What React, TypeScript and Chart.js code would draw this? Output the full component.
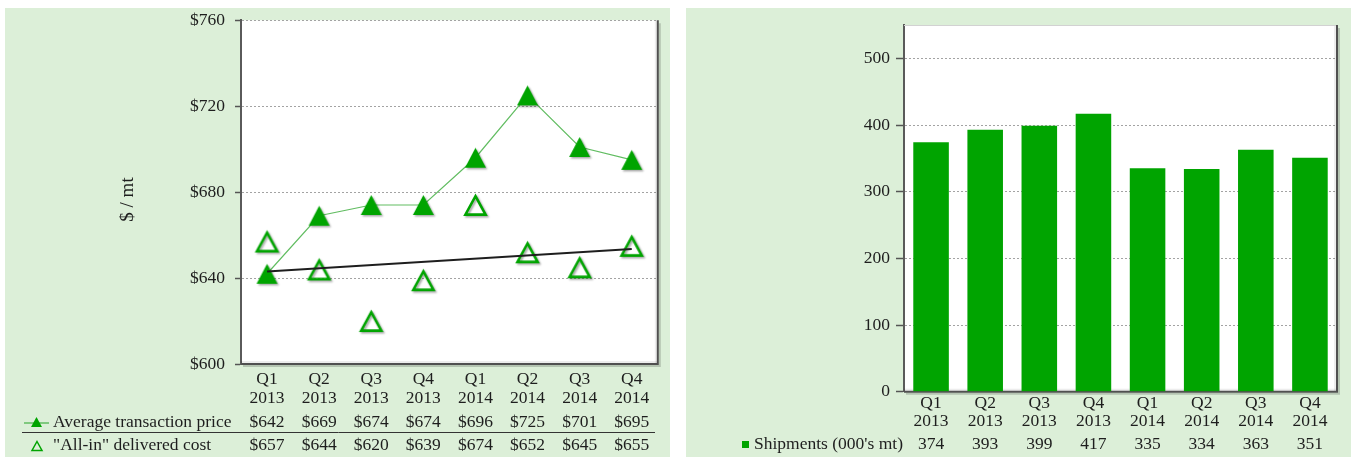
import React, { useEffect, useRef } from 'react';
import { Chart, registerables } from 'chart.js';

Chart.register(...registerables);

// ---- data ----
const quarters: string[][] = [
  ['Q1', '2013'], ['Q2', '2013'], ['Q3', '2013'], ['Q4', '2013'],
  ['Q1', '2014'], ['Q2', '2014'], ['Q3', '2014'], ['Q4', '2014'],
];
const avgPrice = [642, 669, 674, 674, 696, 725, 701, 695];
const deliveredCost = [657, 644, 620, 639, 674, 652, 645, 655];
// start / end of the delivered-cost trend line
const costTrend = [643, 653.5];
const shipments = [374, 393, 399, 417, 335, 334, 363, 351];
const priceTicks = [600, 640, 680, 720, 760];
const shipmentTicks = [0, 100, 200, 300, 400, 500];

// ---- styling ----
const FONT = "'Liberation Serif', 'Times New Roman', serif";
const FONT_SIZE = 17.5;
const GREEN = '#00a400';
const LINE_GREEN = '#62bd62';
const PANEL_BG = '#dcefd8';
const TEXT = '#1e1e1e';
const PANEL_W = 665;
const PANEL_H = 449;

function triangleMarker(w: number, h: number, filled: boolean): HTMLCanvasElement {
  const pad = 4;
  const c = document.createElement('canvas');
  c.width = w + pad * 2;
  c.height = h + pad * 2;
  const ctx = c.getContext('2d')!;
  ctx.shadowColor = 'rgba(0,0,0,0.35)';
  ctx.shadowBlur = 2;
  ctx.shadowOffsetX = 1.5;
  ctx.shadowOffsetY = 1.5;
  const inset = filled ? 0 : 1.4;
  ctx.beginPath();
  ctx.moveTo(pad + w / 2, pad + inset * 1.6);
  ctx.lineTo(pad + w - inset, pad + h - inset);
  ctx.lineTo(pad + inset, pad + h - inset);
  ctx.closePath();
  if (filled) {
    ctx.fillStyle = GREEN;
    ctx.fill();
  } else {
    ctx.lineWidth = 2.6;
    ctx.strokeStyle = GREEN;
    ctx.stroke();
  }
  return c;
}

function smallTriangle(ctx: CanvasRenderingContext2D, cx: number, cy: number, w: number, h: number, filled: boolean) {
  ctx.beginPath();
  ctx.moveTo(cx, cy - h / 2);
  ctx.lineTo(cx + w / 2, cy + h / 2);
  ctx.lineTo(cx - w / 2, cy + h / 2);
  ctx.closePath();
  if (filled) {
    ctx.fillStyle = GREEN;
    ctx.fill();
  } else {
    ctx.lineWidth = 1.5;
    ctx.strokeStyle = GREEN;
    ctx.stroke();
  }
}

// panel background + white plot area, then the 3D-looking frame
function framePlugin(topLine: boolean) {
  return {
    id: 'plotFrame',
    beforeDraw(chart: any) {
      const { ctx, chartArea: a, width, height } = chart;
      ctx.save();
      ctx.fillStyle = PANEL_BG;
      ctx.fillRect(0, 0, width, height);
      ctx.fillStyle = '#ffffff';
      ctx.fillRect(a.left, a.top, a.right - a.left, a.bottom - a.top);
      ctx.restore();
    },
    beforeDatasetsDraw(chart: any) {
      const { ctx, chartArea: a } = chart;
      ctx.save();
      ctx.fillStyle = 'rgba(0,0,0,0.07)';
      ctx.fillRect(a.left, a.bottom - 3, a.right - a.left, 3);
      ctx.fillRect(a.right - 3, a.top, 3, a.bottom - a.top);
      if (topLine) {
        ctx.strokeStyle = '#d2d2d2';
        ctx.lineWidth = 1;
        ctx.beginPath();
        ctx.moveTo(a.left, a.top + 0.5);
        ctx.lineTo(a.right, a.top + 0.5);
        ctx.stroke();
      }
      ctx.strokeStyle = 'rgba(0,0,0,0.18)';
      ctx.lineWidth = 2;
      ctx.beginPath();
      ctx.moveTo(a.right + 2, a.top + 3);
      ctx.lineTo(a.right + 2, a.bottom + 2);
      ctx.lineTo(a.left + 2, a.bottom + 2);
      ctx.stroke();
      ctx.strokeStyle = '#505050';
      ctx.lineWidth = 2;
      ctx.beginPath();
      ctx.moveTo(a.right, a.top);
      ctx.lineTo(a.right, a.bottom);
      ctx.lineTo(a.left, a.bottom);
      ctx.stroke();
      ctx.restore();
    },
  };
}

const priceTable = {
  id: 'priceTable',
  afterDraw(chart: any) {
    const { ctx } = chart;
    const x = chart.scales.x;
    const row1 = 414;
    const row2 = 437;
    ctx.save();
    ctx.font = `${FONT_SIZE}px ${FONT}`;
    ctx.fillStyle = TEXT;
    ctx.textBaseline = 'middle';
    ctx.textAlign = 'center';
    avgPrice.forEach((v, i) => ctx.fillText('$' + v, x.getPixelForValue(i), row1));
    deliveredCost.forEach((v, i) => ctx.fillText('$' + v, x.getPixelForValue(i), row2));
    ctx.textAlign = 'left';
    ctx.fillText('Average transaction price', 48, row1);
    ctx.fillText('"All-in" delivered cost', 48, row2);

    // separator between the two rows
    ctx.strokeStyle = '#333';
    ctx.lineWidth = 1;
    ctx.beginPath();
    ctx.moveTo(17, 424.5);
    ctx.lineTo(650, 424.5);
    ctx.stroke();

    // legend keys
    ctx.strokeStyle = LINE_GREEN;
    ctx.lineWidth = 1.5;
    ctx.beginPath();
    ctx.moveTo(19, row1 + 1);
    ctx.lineTo(44, row1 + 1);
    ctx.stroke();
    smallTriangle(ctx, 31.5, row1, 11, 10, true);
    smallTriangle(ctx, 32, row2 + 1, 10, 9, false);

    // y axis title
    ctx.translate(123, 191.5);
    ctx.rotate(-Math.PI / 2);
    ctx.textAlign = 'center';
    ctx.fillStyle = TEXT;
    ctx.font = `19px ${FONT}`;
    ctx.fillText('$ / mt', 0, 0);
    ctx.restore();
  },
};

const shipmentTable = {
  id: 'shipmentTable',
  afterDraw(chart: any) {
    const { ctx } = chart;
    const x = chart.scales.x;
    const row = 436;
    ctx.save();
    ctx.font = `${FONT_SIZE}px ${FONT}`;
    ctx.fillStyle = TEXT;
    ctx.textBaseline = 'middle';
    ctx.textAlign = 'center';
    shipments.forEach((v, i) => ctx.fillText(String(v), x.getPixelForValue(i), row));
    ctx.textAlign = 'left';
    ctx.fillText("Shipments (000's mt)", 68, row);
    ctx.fillStyle = GREEN;
    ctx.fillRect(56, row - 3, 7, 7);
    ctx.restore();
  },
};

const tickFont = { family: FONT, size: FONT_SIZE };
const xTickFont = { family: FONT, size: FONT_SIZE, lineHeight: 1.06 };

// fixed axis sizes so the plot area sits exactly where the layout wants it
const fixHeight = (h: number) => (s: any) => {
  s.height = h;
  s.paddingLeft = 0;
  s.paddingRight = 0;
  s.paddingTop = 0;
  s.paddingBottom = 0;
};
const fixWidth = (w: number) => (s: any) => {
  s.width = w;
  s.paddingLeft = 0;
  s.paddingRight = 0;
  s.paddingTop = 0;
  s.paddingBottom = 0;
};

export default function App() {
  const leftRef = useRef<HTMLCanvasElement | null>(null);
  const rightRef = useRef<HTMLCanvasElement | null>(null);

  useEffect(() => {
    if (!leftRef.current || !rightRef.current) return;
    const filledTri = triangleMarker(21, 20, true);
    const hollowTri = triangleMarker(23, 22, false);
    const trendData: (number | null)[] = quarters.map((_, i) =>
      i === 0 ? costTrend[0] : i === quarters.length - 1 ? costTrend[1] : null
    );

    const priceChart = new Chart(leftRef.current, {
      type: 'line',
      data: {
        labels: quarters,
        datasets: [
          {
            label: 'Trend',
            data: trendData,
            spanGaps: true,
            borderColor: '#1e1e1e',
            borderWidth: 2,
            pointRadius: 0,
            order: 0,
          },
          {
            label: 'Average transaction price',
            data: avgPrice,
            borderColor: LINE_GREEN,
            borderWidth: 1.2,
            pointStyle: filledTri as any,
            pointRadius: 11,
            order: 1,
          },
          {
            label: '"All-in" delivered cost',
            data: deliveredCost,
            showLine: false,
            pointStyle: hollowTri as any,
            pointRadius: 11,
            order: 2,
          },
        ],
      },
      options: {
        animation: false,
        responsive: false,
        layout: { padding: { left: 0, top: 10.5, right: 5, bottom: 0 } },
        plugins: { legend: { display: false }, tooltip: { enabled: false } },
        scales: {
          x: {
            type: 'category',
            offset: true,
            grid: { display: false, drawTicks: false },
            border: { display: false },
            ticks: {
              color: TEXT,
              font: xTickFont,
              padding: 6.5,
              maxRotation: 0,
              autoSkip: false,
            },
            afterFit: fixHeight(93),
          },
          y: {
            min: 600,
            max: 760,
            afterBuildTicks: (s: any) => {
              s.ticks = priceTicks.map((v) => ({ value: v }));
            },
            grid: {
              color: '#a3a3a3',
              lineWidth: 1,
              drawTicks: true,
              tickLength: 6,
              tickColor: '#555',
              tickWidth: 1.5,
            },
            border: { display: true, color: '#5a5a5a', width: 2, dash: [2, 2] },
            ticks: {
              color: TEXT,
              font: tickFont,
              padding: 10,
              callback: (v: any) => '$' + v,
            },
            afterFit: fixWidth(236),
          },
        },
      },
      plugins: [framePlugin(false), priceTable],
    });

    const shipChart = new Chart(rightRef.current, {
      type: 'bar',
      data: {
        labels: quarters,
        datasets: [
          {
            label: "Shipments (000's mt)",
            data: shipments,
            backgroundColor: GREEN,
            barPercentage: 0.657,
            categoryPercentage: 1,
          },
        ],
      },
      options: {
        animation: false,
        responsive: false,
        layout: { padding: { left: 0, top: 17, right: 14, bottom: 0 } },
        plugins: { legend: { display: false }, tooltip: { enabled: false } },
        scales: {
          x: {
            grid: { display: false, drawTicks: false },
            border: { display: false },
            ticks: {
              color: TEXT,
              font: xTickFont,
              padding: 2,
              maxRotation: 0,
              autoSkip: false,
            },
            afterFit: fixHeight(65.3),
          },
          y: {
            min: 0,
            max: 550,
            afterBuildTicks: (s: any) => {
              s.ticks = shipmentTicks.map((v) => ({ value: v }));
            },
            grid: {
              color: '#a3a3a3',
              lineWidth: 1,
              drawTicks: true,
              tickLength: 8,
              tickColor: '#555',
              tickWidth: 1.5,
            },
            border: { display: true, color: '#5a5a5a', width: 2, dash: [2, 2] },
            ticks: { color: TEXT, font: tickFont, padding: 6 },
            afterFit: fixWidth(218),
          },
        },
      },
      plugins: [framePlugin(true), shipmentTable],
    });

    return () => {
      priceChart.destroy();
      shipChart.destroy();
    };
  }, []);

  return (
    <div style={{ position: 'fixed', left: 0, top: 0, width: 1351, height: 457, background: '#ffffff', overflow: 'hidden' }}>
      <canvas
        ref={leftRef}
        width={PANEL_W}
        height={PANEL_H}
        style={{ position: 'absolute', left: 5, top: 8, width: PANEL_W, height: PANEL_H, display: 'block' }}
      />
      <canvas
        ref={rightRef}
        width={PANEL_W}
        height={PANEL_H}
        style={{ position: 'absolute', left: 686, top: 8, width: PANEL_W, height: PANEL_H, display: 'block' }}
      />
    </div>
  );
}
